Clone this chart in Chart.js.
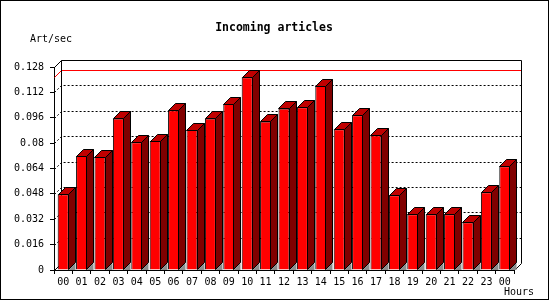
<!DOCTYPE html>
<html>
<head>
<meta charset="utf-8">
<title>Incoming articles</title>
<script src="https://cdn.jsdelivr.net/npm/chart.js@4"></script>
<style>
    body { margin: 0; background: #fff; }
    canvas { display: block; }
</style>
</head>
<body>
<canvas id="myChart" width="550" height="300"></canvas>
<script>
const hours = ['00', '01', '02', '03', '04', '05', '06', '07', '08', '09', '10', '11',
    '12', '13', '14', '15', '16', '17', '18', '19', '20', '21', '22', '23', '00']
const artPerSec = [0.0477, 0.0719, 0.0712, 0.0956, 0.0805, 0.0813, 0.1007, 0.0883, 0.0956,
    0.1047, 0.1215, 0.0937, 0.1019, 0.1026, 0.1160, 0.0887, 0.0975, 0.0849, 0.0471,
    0.0351, 0.0351, 0.0351, 0.0301, 0.0490, 0.0654]
const yMax = 0.128
const yStep = 0.016

const depth = 7 // offset of the back wall, in px
const monoFont = "'DejaVu Sans Mono', 'Liberation Mono', monospace"

// draws the walls, grid and the 3d part of the bars
const box3d = {
    id: 'box3d',
    beforeDatasetsDraw(chart) {
        const ctx = chart.ctx
        const a = chart.chartArea
        const y = chart.scales.y
        const L = Math.round(a.left) + 0.5, R = Math.round(a.right) + 0.5
        const T = Math.round(a.top) + 0.5, B = Math.round(a.bottom) + 0.5
        ctx.save()
        ctx.lineWidth = 1
        ctx.strokeStyle = '#000'

        // dotted grid on back wall + left wall
        ctx.setLineDash([2, 2])
        for (let v = yStep; v < yMax - 0.0001; v += yStep) {
            const py = Math.round(y.getPixelForValue(v)) + 0.5
            ctx.beginPath()
            ctx.moveTo(L, py)
            ctx.lineTo(L + depth, py - depth)
            ctx.lineTo(R + depth, py - depth)
            ctx.stroke()
        }
        ctx.setLineDash([])

        // max line in red
        const maxVal = Math.max(...artPerSec)
        const my = Math.round(y.getPixelForValue(maxVal)) + 0.5
        ctx.strokeStyle = '#f00'
        ctx.beginPath()
        ctx.moveTo(L, my)
        ctx.lineTo(L + depth, my - depth)
        ctx.lineTo(R + depth, my - depth)
        ctx.stroke()

        // back wall frame
        ctx.strokeStyle = '#000'
        ctx.beginPath()
        ctx.moveTo(L, T)
        ctx.lineTo(L + depth, T - depth)
        ctx.lineTo(R + depth, T - depth)
        ctx.lineTo(R + depth, B - depth)
        ctx.lineTo(R, B)
        ctx.moveTo(L + depth, T - depth)
        ctx.lineTo(L + depth, B - depth)
        ctx.moveTo(L, B)
        ctx.lineTo(L + depth, B - depth)
        ctx.stroke()
        ctx.restore()
    },
    afterDatasetsDraw(chart) {
        const ctx = chart.ctx
        const meta = chart.getDatasetMeta(0)
        ctx.save()
        ctx.lineWidth = 1
        ctx.strokeStyle = '#000'
        meta.data.forEach(bar => {
            const p = bar.getProps(['x', 'y', 'base', 'width'], true)
            const l = Math.round(p.x - p.width / 2) + 0.5
            const r = Math.round(p.x + p.width / 2) - 0.5
            const t = Math.round(p.y) + 0.5
            const b = Math.round(p.base) - 0.5

            // shadow on the floor
            ctx.fillStyle = '#8c8c8c'
            ctx.beginPath()
            ctx.moveTo(r, b + 0.5)
            ctx.lineTo(r + depth, b + 0.5 - depth)
            ctx.lineTo(r + depth, b + 0.5)
            ctx.closePath()
            ctx.fill()

            // side
            ctx.fillStyle = '#800000'
            ctx.beginPath()
            ctx.moveTo(r, b)
            ctx.lineTo(r + depth, b - depth)
            ctx.lineTo(r + depth, t - depth)
            ctx.lineTo(r, t)
            ctx.closePath()
            ctx.fill()
            ctx.stroke()

            // top
            ctx.fillStyle = '#c00000'
            ctx.beginPath()
            ctx.moveTo(l, t)
            ctx.lineTo(l + depth, t - depth)
            ctx.lineTo(r + depth, t - depth)
            ctx.lineTo(r, t)
            ctx.closePath()
            ctx.fill()
            ctx.stroke()
        })
        ctx.restore()
    },
    afterDraw(chart) {
        const ctx = chart.ctx
        ctx.save()
        ctx.fillStyle = '#000'
        ctx.textBaseline = 'middle'
        ctx.font = 'bold 11.5px ' + monoFont
        ctx.textAlign = 'center'
        ctx.fillText('Incoming articles', 274, 28)
        ctx.font = '10px ' + monoFont
        ctx.textAlign = 'left'
        ctx.fillText('Art/sec', 30, 39)
        ctx.textAlign = 'right'
        ctx.fillText('Hours', 534, 292)
        // image frame
        ctx.fillRect(0, 0, 549, 1)
        ctx.fillRect(0, 0, 1, 300)
        ctx.fillRect(548, 0, 1, 300)
        ctx.fillRect(0, 299, 549, 1)
        ctx.restore()
    }
}

Chart.defaults.font.family = monoFont
Chart.defaults.font.size = 10
Chart.defaults.color = '#000'

const ctx = document.getElementById('myChart').getContext('2d')
const myChart = new Chart(ctx, {
    type: 'bar',
    data: {
        labels: hours,
        datasets: [{
            label: 'Art/sec',
            data: artPerSec,
            backgroundColor: '#ff0000',
            borderColor: '#000',
            borderWidth: 1,
            barPercentage: 0.6,
            categoryPercentage: 1
        }]
    },
    options: {
        responsive: false,
        animation: false,
        layout: { padding: { top: 67, right: 36, left: 0, bottom: 0 } },
        plugins: {
            legend: { display: false },
            tooltip: { enabled: false }
        },
        scales: {
            x: {
                offset: true,
                grid: { offset: true, drawOnChartArea: false, color: '#000', tickLength: 4 },
                border: { color: '#000' },
                ticks: { padding: 2, maxRotation: 0, autoSkip: false },
                afterFit(scale) { scale.height = 30 }
            },
            y: {
                min: 0,
                max: yMax,
                grid: { drawOnChartArea: false, color: '#000', tickLength: 4 },
                border: { color: '#000' },
                ticks: {
                    stepSize: yStep,
                    padding: 6,
                    callback: v => String(+v.toFixed(3))
                },
                afterFit(scale) { scale.width = 54 }
            }
        }
    },
    plugins: [box3d]
})
</script>
</body>
</html>
